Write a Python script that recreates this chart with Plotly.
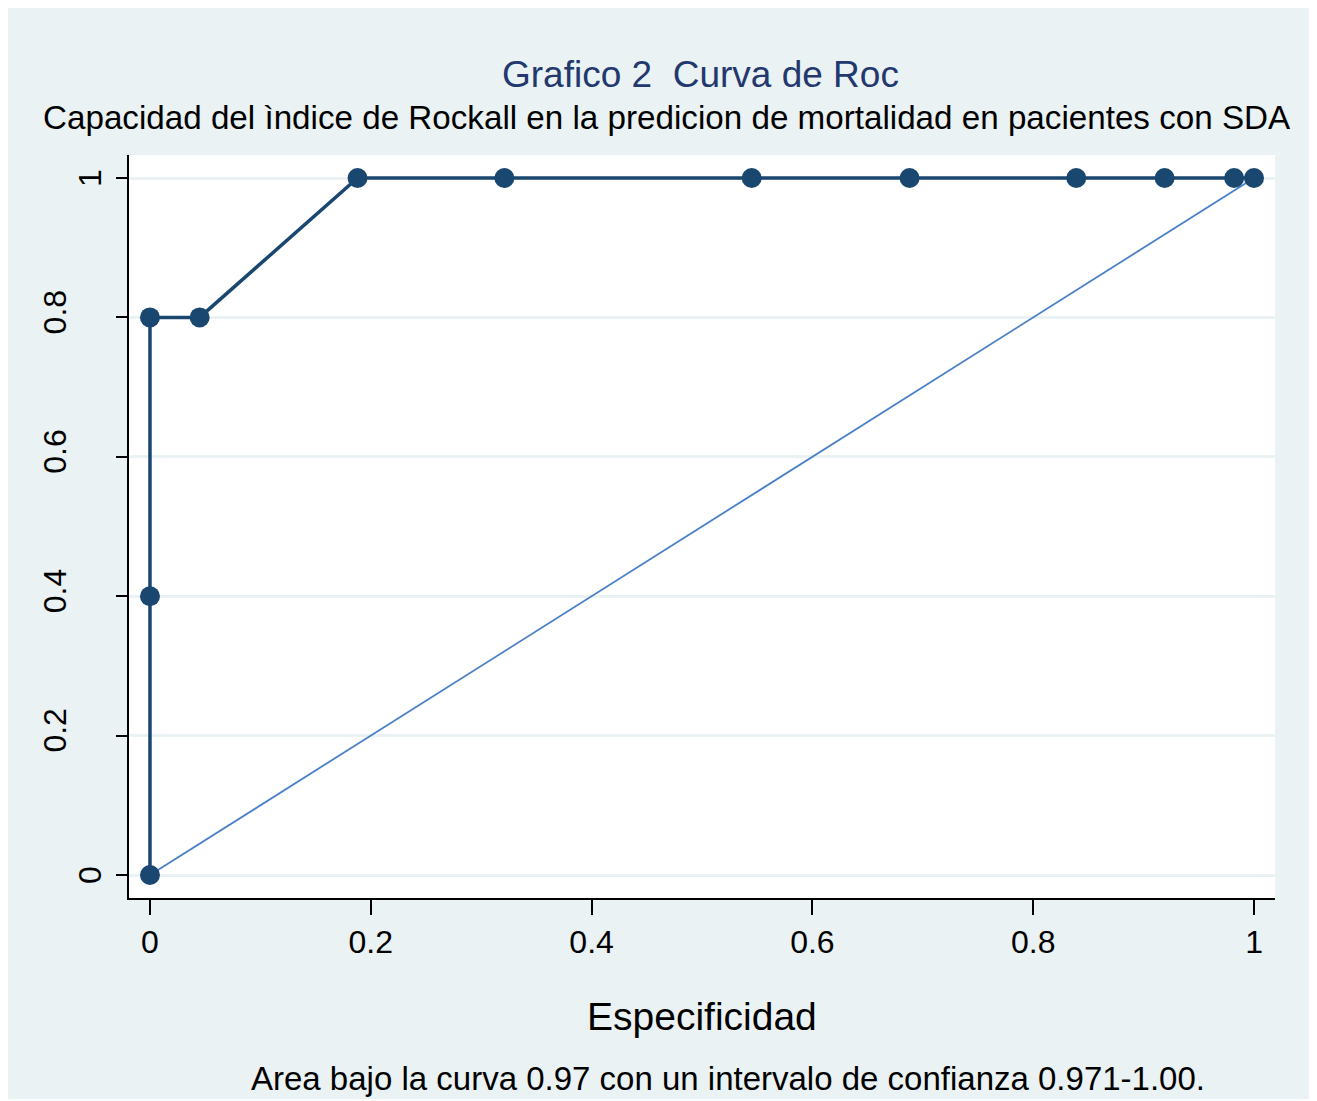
import plotly.graph_objects as go

# ROC curve points (x labelled "Especificidad", y = sensitivity)
roc_x = [0, 0, 0, 0.045, 0.188, 0.321, 0.545, 0.688, 0.839, 0.919, 0.982, 1.0]
roc_y = [0, 0.4, 0.8, 0.8, 1.0, 1.0, 1.0, 1.0, 1.0, 1.0, 1.0, 1.0]
ref_x = [0, 1]
ref_y = [0, 1]

tick_vals = [0, 0.2, 0.4, 0.6, 0.8, 1]
tick_text = ["0", "0.2", "0.4", "0.6", "0.8", "1"]

title_text = "Grafico 2\u00a0 Curva de Roc"
subtitle_text = "Capacidad del ìndice de Rockall en la predicion de mortalidad en pacientes con SDA"
xtitle_text = "Especificidad"
note_text = "Area bajo la curva 0.97 con un intervalo de confianza 0.971-1.00."

BG = "#EAF2F3"
NAVY = "#1A476F"
FONT = "Liberation Sans, Arial, sans-serif"

# page body has an 8px margin; figure is sized so it ends at the window edge
W, H = 1309, 1093
OFF = 8
PL, PR, PT, PB = 129, 1275, 155, 898  # plot area in window pixels
PW, PH = PR - PL, PB - PT


def px(xw):
    return (xw - PL) / PW


def py(yw):
    return (PB - yw) / PH


fig = go.Figure()
fig.add_trace(go.Scatter(x=ref_x, y=ref_y, mode="lines",
                         line=dict(color="#4A80C8", width=1.8), hoverinfo="skip"))
fig.add_trace(go.Scatter(x=roc_x, y=roc_y, mode="lines+markers",
                         line=dict(color=NAVY, width=3.5),
                         marker=dict(color=NAVY, size=20, line=dict(width=0))))

fig.update_layout(
    width=W, height=H,
    margin=dict(l=PL - OFF, r=W - (PR - OFF), t=PT - OFF, b=H - (PB - OFF)),
    paper_bgcolor="white", plot_bgcolor="white",
    showlegend=False,
    font=dict(family=FONT, color="black"),
    shapes=[
        dict(type="rect", xref="paper", yref="paper",
             x0=px(5), x1=px(1310), y0=py(1099), y1=py(7),
             fillcolor=BG, line=dict(width=0), layer="below"),
        dict(type="rect", xref="x domain", yref="y domain",
             x0=0, x1=1, y0=0, y1=1,
             fillcolor="white", line=dict(width=0), layer="below"),
    ],
)

fig.update_xaxes(range=[-0.019, 1.019], tickvals=tick_vals, ticktext=tick_text,
                 ticks="outside", ticklen=15, tickwidth=1.5, tickcolor="black",
                 showline=True, linecolor="black", linewidth=1.5,
                 showgrid=False, zeroline=False,
                 tickfont=dict(size=32, family=FONT, color="black"))
fig.update_yaxes(range=[-0.033, 1.033], tickvals=tick_vals,
                 ticks="outside", ticklen=11, tickwidth=1.5, tickcolor="black",
                 showline=True, linecolor="black", linewidth=1.5,
                 showgrid=True, gridcolor=BG, gridwidth=3,
                 zeroline=False, showticklabels=False)

annotations = []
# rotated y tick labels (Stata style placement)
for v, t in zip(tick_vals, tick_text):
    shift = -39 if len(t) == 1 else -74
    annotations.append(dict(x=0, y=v, xref="paper", yref="y", text=t,
                            textangle=-90, showarrow=False,
                            xanchor="center", yanchor="middle",
                            xshift=shift, yshift=0 if len(t) == 1 else 5,
                            font=dict(size=32, family=FONT, color="black")))
annotations += [
    dict(x=px(700), y=py(74), xref="paper", yref="paper",
         text=title_text, showarrow=False, xanchor="center", yanchor="middle",
         font=dict(size=37, family=FONT, color="#22386E")),
    dict(x=px(667), y=py(117), xref="paper", yref="paper",
         text=subtitle_text, showarrow=False, xanchor="center", yanchor="middle",
         font=dict(size=33.2, family=FONT, color="black")),
    dict(x=px(702), y=py(1017), xref="paper", yref="paper",
         text=xtitle_text, showarrow=False, xanchor="center", yanchor="middle",
         font=dict(size=39, family=FONT, color="black")),
    dict(x=px(728.5), y=py(1078), xref="paper", yref="paper",
         text=note_text, showarrow=False, xanchor="center", yanchor="middle",
         font=dict(size=33, family=FONT, color="black")),
]
fig.update_layout(annotations=annotations)

fig.write_html("out.html")
